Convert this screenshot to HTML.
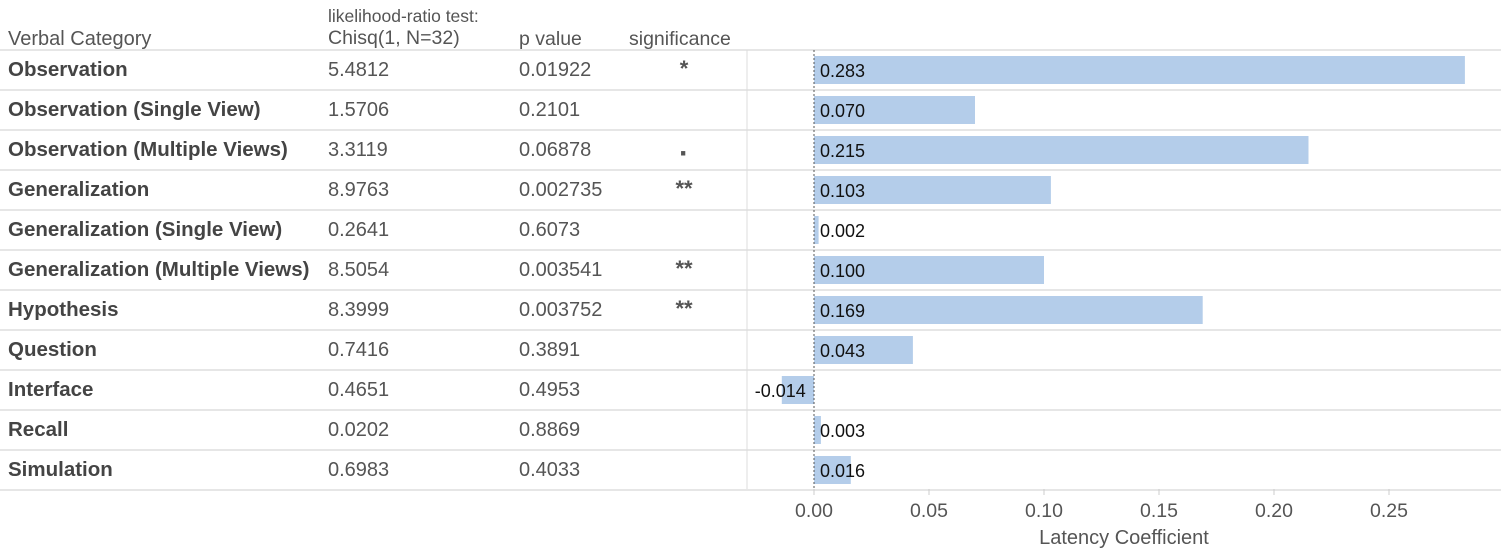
<!DOCTYPE html>
<html><head><meta charset="utf-8"><style>
body{margin:0;background:#fff;width:1501px;height:552px;overflow:hidden;font-family:"Liberation Sans",sans-serif;}
svg text{font-family:"Liberation Sans",sans-serif;}
</style></head><body>
<svg id="chart" width="1501" height="552" viewBox="0 0 1501 552" xmlns="http://www.w3.org/2000/svg">
<text x="8" y="45" font-size="20" fill="#555">Verbal Category</text>
<text x="328" y="22" font-size="17.5" fill="#555">likelihood-ratio test:</text>
<text x="328" y="44" font-size="19.5" fill="#555">Chisq(1, N=32)</text>
<text x="519" y="45" font-size="19.5" fill="#555">p value</text>
<text x="629" y="45" font-size="19.5" fill="#555">significance</text>
<g id="rows"></g>
<line x1="747" y1="50" x2="747" y2="489" stroke="#ddd" stroke-width="1"/>
<g id="bars"></g>
<line id="zero" y1="50" y2="489" stroke="#555" stroke-width="1" stroke-dasharray="2,2"/>
<g id="ticks"></g>
<text x="1124" y="544" font-size="20" fill="#555" text-anchor="middle">Latency Coefficient</text>
</svg>
<script>
const categories=["Observation","Observation (Single View)","Observation (Multiple Views)","Generalization","Generalization (Single View)","Generalization (Multiple Views)","Hypothesis","Question","Interface","Recall","Simulation"];
const chisq=["5.4812","1.5706","3.3119","8.9763","0.2641","8.5054","8.3999","0.7416","0.4651","0.0202","0.6983"];
const pvals=["0.01922","0.2101","0.06878","0.002735","0.6073","0.003541","0.003752","0.3891","0.4953","0.8869","0.4033"];
const signif=["*","","·","**","","**","**","","","",""];
const coef=[0.283,0.070,0.215,0.103,0.002,0.100,0.169,0.043,-0.014,0.003,0.016];
const ticks=[0,0.05,0.10,0.15,0.20,0.25];
const NS="http://www.w3.org/2000/svg";
const x0=814, scale=2300, topY=50, rowH=40;
const X=v=>x0+v*scale;
const Y=i=>topY+i*rowH;
function mk(tag,attrs,parent,txt){const e=document.createElementNS(NS,tag);for(const k in attrs)e.setAttribute(k,attrs[k]);if(txt!==undefined)e.textContent=txt;parent.appendChild(e);return e;}
document.getElementById('zero').setAttribute('x1',X(0));
document.getElementById('zero').setAttribute('x2',X(0));
const rows=document.getElementById('rows'), bars=document.getElementById('bars'), tg=document.getElementById('ticks');
for(let i=0;i<=categories.length;i++){
  const l=mk('line',{x1:0,x2:1501,y1:Y(i),y2:Y(i),stroke:'#ddd','stroke-width':1.5},rows);
  
  
}
categories.forEach((c,i)=>{
  const ty=Y(i)+26;
  let t=mk('text',{x:8,y:ty,'font-size':20.5,'font-weight':'bold',fill:'#444'},rows,c);
  
  
  t=mk('text',{x:328,y:ty,'font-size':20,fill:'#555'},rows,chisq[i]);
  
  
  t=mk('text',{x:519,y:ty,'font-size':20,fill:'#555'},rows,pvals[i]);
  
  
  if(signif[i]){
    t=mk('text',{x:684,y:signif[i]==='·'?ty+7:ty,'font-size':signif[i]==='·'?30:22,'font-weight':'bold',fill:'#555','text-anchor':'middle'},rows,signif[i]);
    
    
  }
  const v=coef[i];
  const bx=Math.min(X(0),X(v)), bw=Math.abs(X(v)-X(0));
  const r=mk('rect',{x:bx,y:Y(i)+6,width:bw,height:28,fill:'#b4cdea'},bars);
  
  
  const lbl=v.toFixed(3);
  let lt;
  if(v<0) lt=mk('text',{x:X(v)+24,y:ty+1,'font-size':18,fill:'#111','text-anchor':'end'},bars,lbl);
  else lt=mk('text',{x:X(0)+6,y:ty+1,'font-size':18,fill:'#111'},bars,lbl);
  
  
});
ticks.forEach(v=>{
  const l=mk('line',{x1:X(v),x2:X(v),y1:489,y2:495,stroke:'#ccc'},tg);
  
  
  const t=mk('text',{x:X(v),y:517,'font-size':19.5,fill:'#555','text-anchor':'middle'},tg,v.toFixed(2));
  
  
});
</script>
</body></html>
